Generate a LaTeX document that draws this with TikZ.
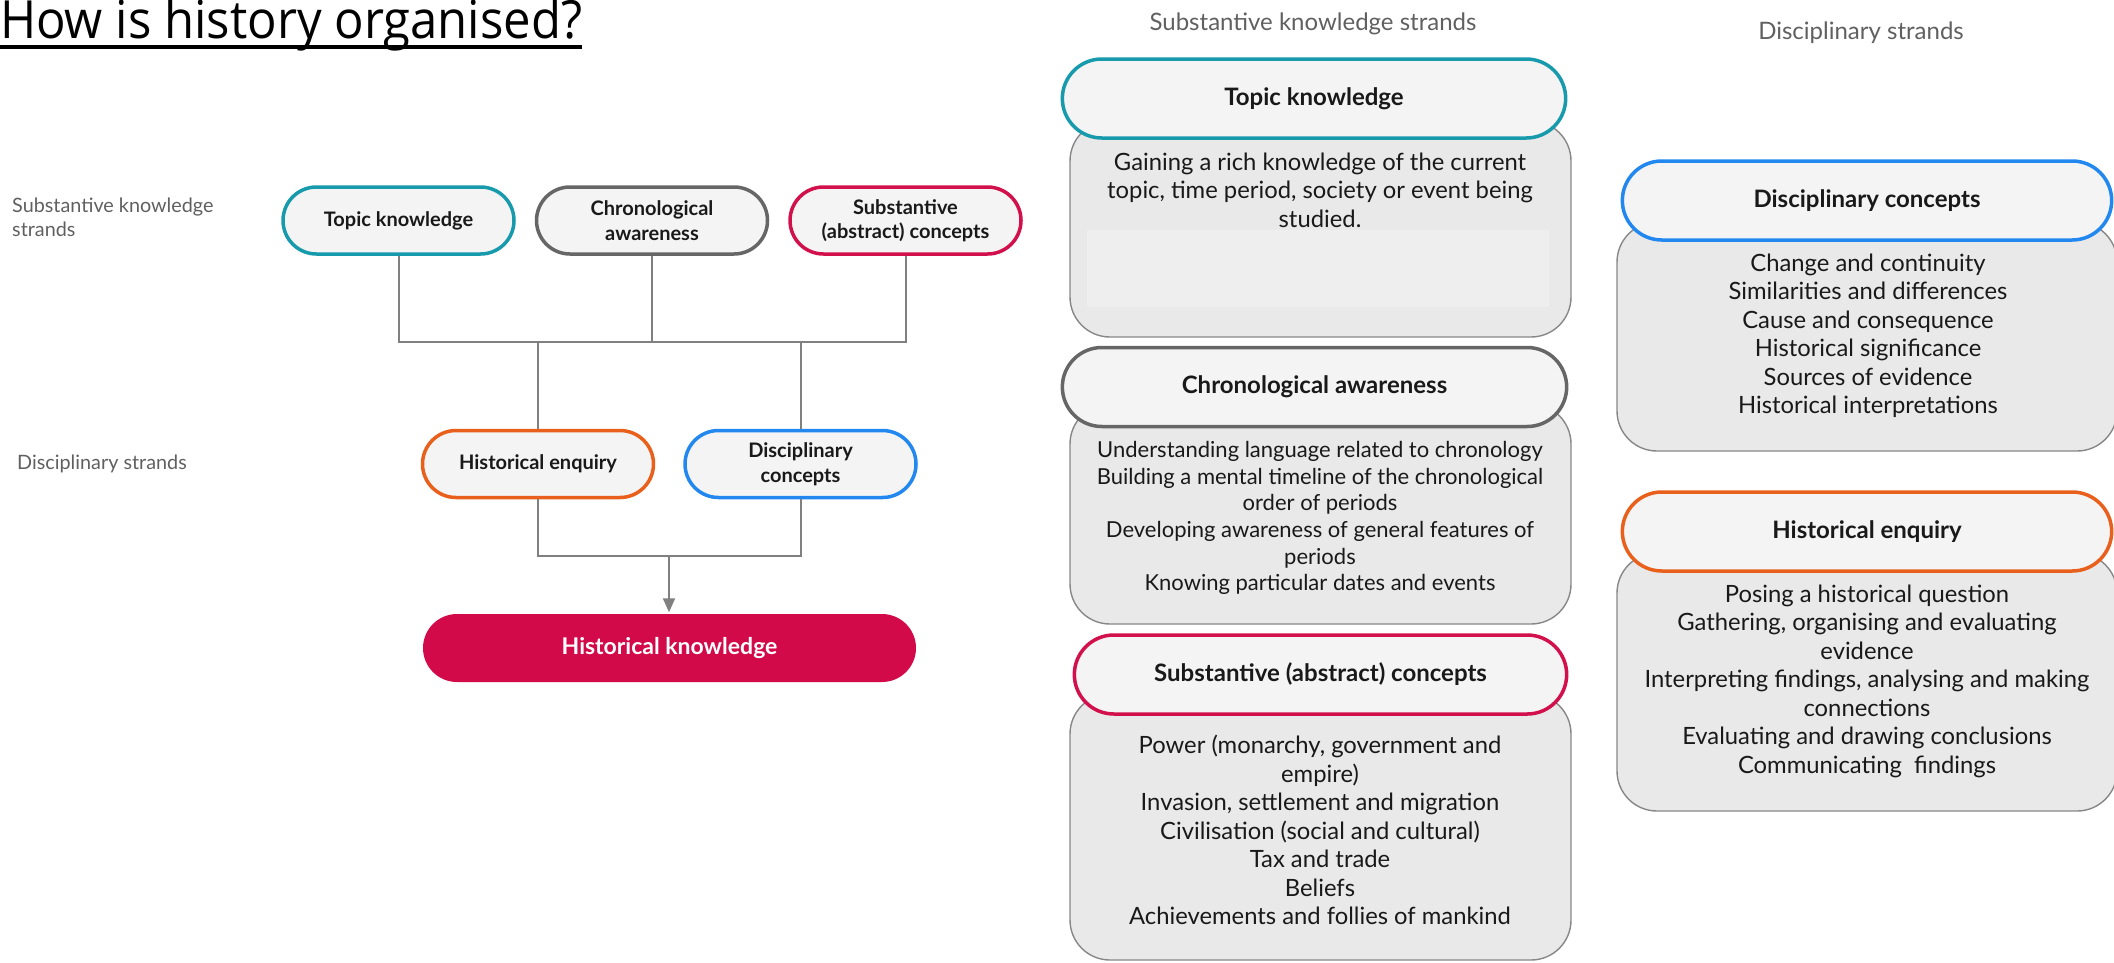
\documentclass[tikz,border=0pt]{standalone}
\usepackage{fontspec}
\setmainfont{Lato}
\newfontfamily\titlefont{Open Sans}
\usepackage{graphicx}
\usepackage{xcolor}
\definecolor{topicteal}{RGB}{22,154,172}
\definecolor{chronogrey}{RGB}{102,102,102}
\definecolor{substred}{RGB}{209,16,76}
\definecolor{enqorange}{RGB}{232,96,28}
\definecolor{discblue}{RGB}{34,136,240}
\definecolor{hkred}{RGB}{210,10,74}
\definecolor{pillgrey}{RGB}{244,244,244}
\definecolor{panelgrey}{RGB}{233,233,233}
\definecolor{blankgrey}{RGB}{238,238,238}
\definecolor{panelline}{RGB}{135,135,135}
\definecolor{linkgrey}{RGB}{128,128,128}
\definecolor{labelgrey}{RGB}{96,96,96}
\definecolor{textblack}{RGB}{25,25,25}
\usepackage{tikz}
\usetikzlibrary{positioning, shapes.misc, arrows.meta}

\begin{document}
\begin{tikzpicture}[x=1pt, y=-1pt,
  strand/.style={rounded rectangle, fill=pillgrey, line width=3.5pt, minimum width=235pt, minimum height=67pt, align=center, inner sep=2pt, font=\bfseries\fontsize{20}{24.5}\selectfont, text=textblack},
  heading/.style={rounded rectangle, fill=pillgrey, line width=3.5pt, minimum height=79pt, align=center, font=\bfseries\fontsize{24}{28}\selectfont, text=textblack},
  panel/.style={rectangle, draw=panelline, fill=panelgrey, line width=1.4pt, rounded corners=40pt},
  bullets/.style={align=center, inner sep=0pt, font=\fontsize{23.8}{28.5}\selectfont, text=textblack},
  side/.style={align=left, inner sep=0pt, text=labelgrey, font=\fontsize{19.8}{24}\selectfont},
  link/.style={draw=linkgrey, line width=2pt},
  arr/.style={link, -{Triangle[length=14pt, width=12pt]}}
]
\useasboundingbox (0,0) rectangle (2114,962);

% title
\node[anchor=base west, inner sep=0pt] (title) at (0,38) {\resizebox{582pt}{40pt}{\titlefont How is history organised?}};
\draw[line width=3.5pt] ([yshift=-9pt]title.base west) -- ([yshift=-9pt]title.base east);

% left: how the strands combine
\node[side, anchor=west] (sublabel) at (12,217) {Substantive knowledge\\strands};
\node[side, anchor=west] (dislabel) at (17,464) {Disciplinary strands};

\node[strand, draw=topicteal] (topic) at (398.5,220.5) {Topic knowledge};
\node[strand, draw=chronogrey, right=19pt of topic] (chrono) {Chronological\\awareness};
\node[strand, draw=substred, right=19pt of chrono] (subst) {Substantive\\(abstract) concepts};
\node[strand, draw=enqorange] (enquiry) at (538,464) {Historical enquiry};
\node[strand, draw=discblue, right=28pt of enquiry] (disc) {Disciplinary\\concepts};
\node[strand, draw=none, fill=hkred, text=white, minimum width=497pt, minimum height=68pt, font=\bfseries\fontsize{23}{26}\selectfont] (hk) at (669.5,648) {Historical knowledge};

\coordinate (upper) at (656,342);
\coordinate (lower) at (669,556);
\draw[link] (topic.south) |- (upper) -| (subst.south);
\draw[link] (chrono.south) -- (chrono.south |- upper);
\draw[link] (enquiry.north) -- (enquiry.north |- upper);
\draw[link] (disc.north) -- (disc.north |- upper);
\draw[link] (enquiry.south) |- (lower) -| (disc.south);
\draw[arr] (lower) -- (lower |- hk.north);

% right: the strands in detail
\node[font=\fontsize{24}{28}\selectfont, text=labelgrey] (subhead) at (1313,24) {Substantive knowledge strands};
\node[font=\fontsize{24}{28}\selectfont, text=labelgrey] (dishead) at (1861,33) {Disciplinary strands};

\node[panel, minimum width=501pt, minimum height=216pt] (topicpanel) at (1320.5,229) {};
\fill[blankgrey] (1087,230) rectangle (1549,307);
\node[heading, draw=topicteal, minimum width=510pt] (topichead) at (1314,98.5) {Topic knowledge};
\node[bullets] (topictext) at (1320,190) {Gaining a rich knowledge of the current\\topic, time period, society or event being\\studied.};

\node[panel, minimum width=501pt, minimum height=220pt] (chronopanel) at (1320.5,514) {};
\node[heading, draw=chronogrey, minimum width=511pt] (chronohead) at (1314.5,387) {Chronological awareness};
\node[bullets, font=\fontsize{22}{26.6}\selectfont] (chronotext) at (1320,518) {Understanding language related to chronology\\Building a mental timeline of the chronological\\order of periods\\Developing awareness of general features of\\periods\\Knowing particular dates and events};

\node[panel, minimum width=501pt, minimum height=266pt] (substpanel) at (1320.5,827) {};
\node[heading, draw=substred, minimum width=499pt] (substhead) at (1320.5,674.5) {Substantive (abstract) concepts};
\node[bullets] (substtext) at (1320,830) {Power (monarchy, government and\\empire)\\Invasion, settlement and migration\\Civilisation (social and cultural)\\Tax and trade\\Beliefs\\Achievements and follies of mankind};

\node[panel, minimum width=500pt, minimum height=229pt] (discpanel) at (1867,336.5) {};
\node[heading, draw=discblue, minimum width=496pt] (dischead) at (1867,200.5) {Disciplinary concepts};
\node[bullets] (disctext) at (1868,336) {Change and continuity\\Similarities and differences\\Cause and consequence\\Historical significance\\Sources of evidence\\Historical interpretations};

\node[panel, minimum width=500pt, minimum height=258pt] (enqpanel) at (1867,682) {};
\node[heading, draw=enqorange, minimum width=496pt] (enqhead) at (1867,531.5) {Historical enquiry};
\node[bullets] (enqtext) at (1867,681) {Posing a historical question\\Gathering, organising and evaluating\\evidence\\Interpreting findings, analysing and making\\connections\\Evaluating and drawing conclusions\\Communicating\ \ findings};
\end{tikzpicture}
\end{document}
